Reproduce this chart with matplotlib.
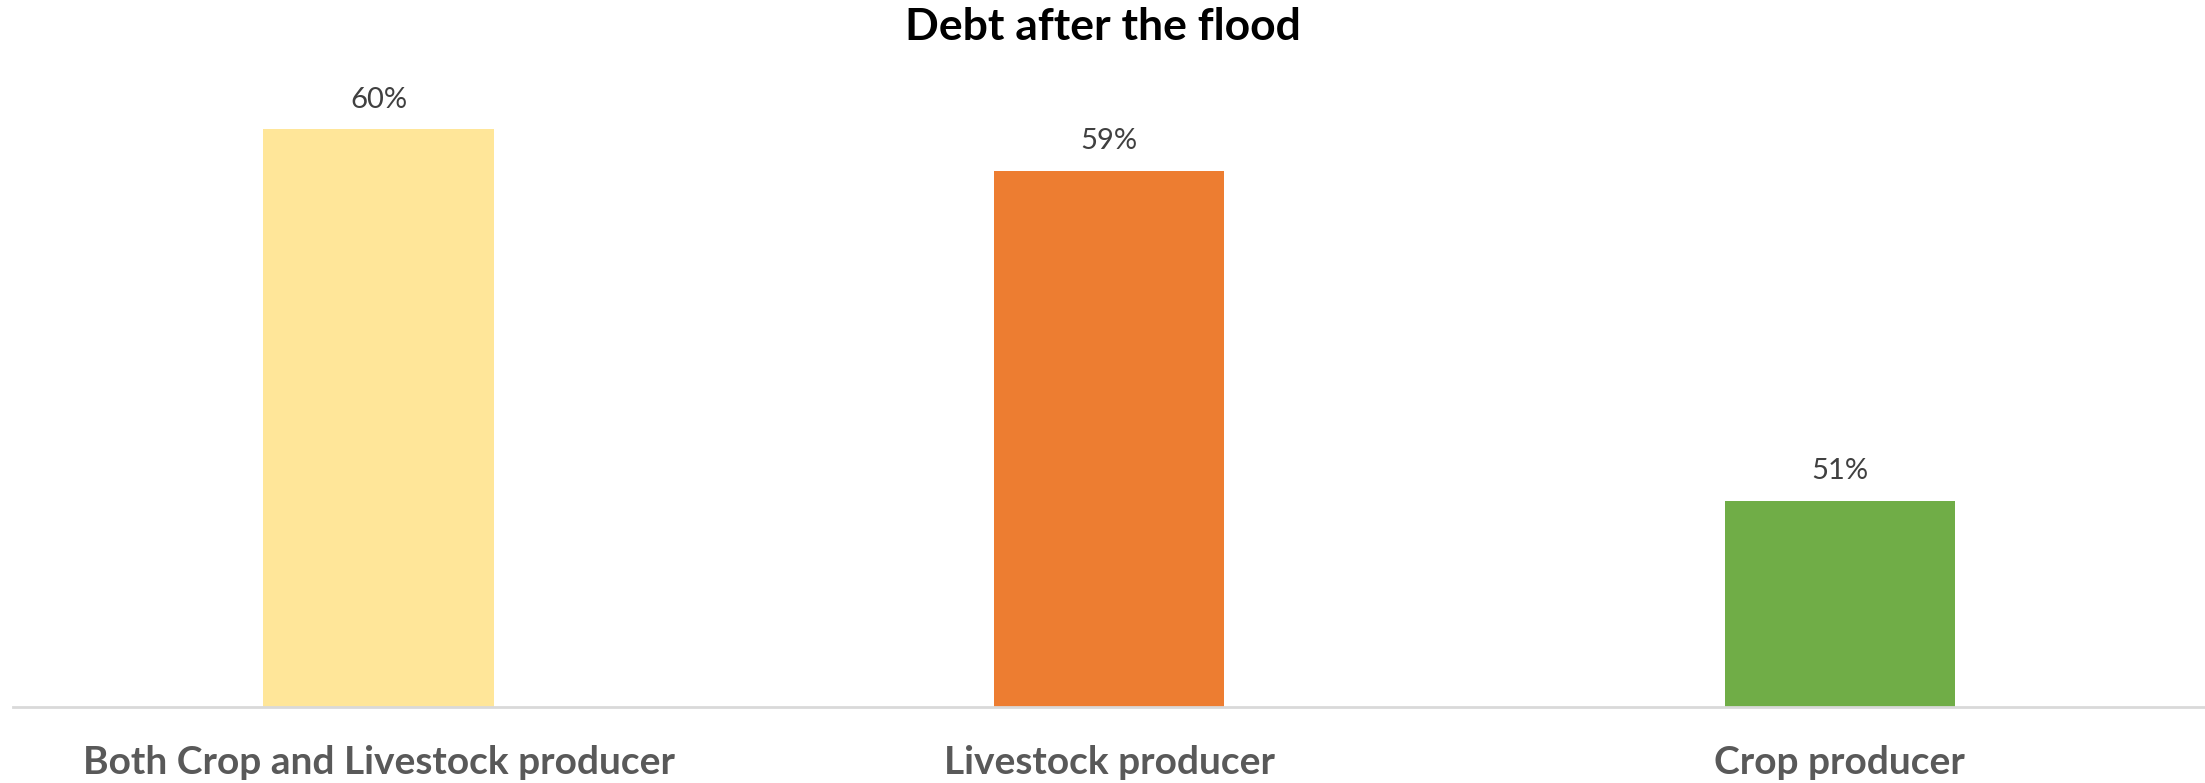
import matplotlib.pyplot as plt

categories = ["Both Crop and Livestock producer", "Livestock producer", "Crop producer"]
debt_pct = [60, 59, 51]
bar_colors = ["#FFE699", "#ED7D31", "#70AD47"]

plt.rcParams["font.family"] = ["Lato", "DejaVu Sans"]

fig = plt.figure(figsize=(22.05, 7.83), dpi=100)
ax = fig.add_axes([0.006, 0.097, 0.994, 0.843])

x = range(len(categories))
bars = ax.bar(x, debt_pct, width=0.315, color=bar_colors, zorder=2)

# value labels above each bar
for bar, val in zip(bars, debt_pct):
    ax.annotate(f"{val}%", (bar.get_x() + bar.get_width() / 2, bar.get_height()),
                xytext=(0, 21.5), textcoords="offset points", ha="center", va="center",
                fontsize=21, color="#404040")

ax.set_xlim(-0.5, 2.5)
ax.set_ylim(46, 62)
ax.set_xticks(list(x))
ax.set_xticklabels(categories, fontsize=28, fontweight="bold", color="#595959")
ax.tick_params(axis="x", length=0, pad=27)
ax.set_yticks([])
for side in ["top", "right", "left"]:
    ax.spines[side].set_visible(False)
ax.spines["bottom"].set_color("#D9D9D9")
ax.spines["bottom"].set_linewidth(2)

fig.text(0.5, 0.966, "Debt after the flood", ha="center", va="center",
         fontsize=32, fontweight="bold", color="black")

fig.savefig("out.png", dpi=100)
